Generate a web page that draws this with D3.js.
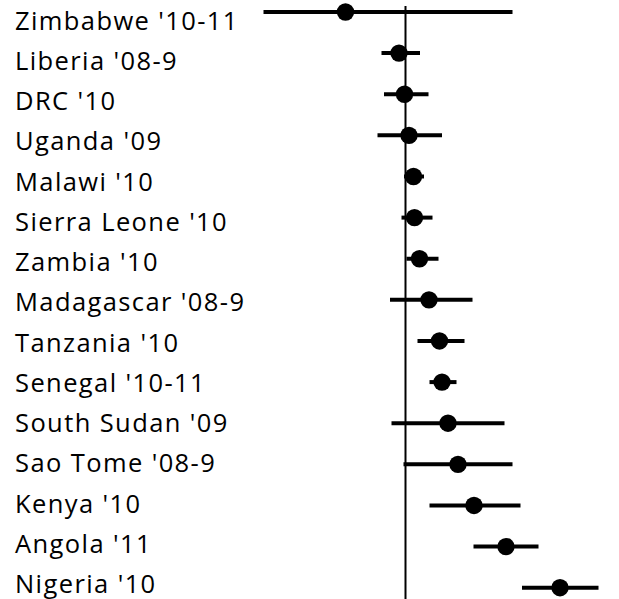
<!DOCTYPE html>
<html>
<head>
<meta charset="utf-8">
<script src="https://cdn.jsdelivr.net/npm/d3@7"></script>
<style>
  html, body { margin: 0; padding: 0; background: #fff; }
  svg { display: block; }
</style>
</head>
<body>
<script>
// Survey labels, top to bottom
const surveys = [
  "Zimbabwe '10-11", "Liberia '08-9", "DRC '10", "Uganda '09", "Malawi '10",
  "Sierra Leone '10", "Zambia '10", "Madagascar '08-9", "Tanzania '10",
  "Senegal '10-11", "South Sudan '09", "Sao Tome '08-9", "Kenya '10",
  "Angola '11", "Nigeria '10"
];
// Point estimates and confidence bounds
const estimate = [-0.60, -0.065, -0.01, 0.035, 0.08, 0.09, 0.14, 0.235, 0.34, 0.365, 0.425, 0.525, 0.685, 1.005, 1.545];
const lower    = [-1.42, -0.24, -0.215, -0.28, -0.015, -0.04, 0.01, -0.155, 0.12, 0.24, -0.14, -0.02, 0.24, 0.68, 1.165];
const upper    = [1.07, 0.145, 0.23, 0.365, 0.185, 0.27, 0.33, 0.67, 0.59, 0.51, 0.99, 1.07, 1.15, 1.33, 1.93];
// Reference value for the vertical line
const reference = 0;

const W = 619, H = 599;
const rows = surveys.map((s, i) => ({ label: s, est: estimate[i], lo: lower[i], hi: upper[i] }));

const svg = d3.select("body").append("svg").attr("width", W).attr("height", H);

const x = d3.scaleLinear().domain([-1.5, 2.0]).range([255.5, 605.5]);
const yMark = d3.scalePoint().domain(surveys).range([12, 587.7]);
const yText = d3.scalePoint().domain(surveys).range([29.5, 593]);

// reference line
svg.append("line")
  .attr("x1", x(reference)).attr("x2", x(reference))
  .attr("y1", 6).attr("y2", H)
  .attr("stroke", "#000").attr("stroke-width", 2);

// labels
svg.append("g").selectAll("text").data(rows).join("text")
  .attr("x", 15)
  .attr("y", d => yText(d.label))
  .attr("font-family", "'Open Sans', sans-serif")
  .attr("font-size", 25.5)
  .attr("letter-spacing", 1.4)
  .attr("fill", "#000")
  .text(d => d.label);

// confidence intervals
svg.append("g").selectAll("line").data(rows).join("line")
  .attr("x1", d => x(d.lo)).attr("x2", d => x(d.hi))
  .attr("y1", d => yMark(d.label)).attr("y2", d => yMark(d.label))
  .attr("stroke", "#000").attr("stroke-width", 4);

// estimates
svg.append("g").selectAll("circle").data(rows).join("circle")
  .attr("cx", d => x(d.est))
  .attr("cy", d => yMark(d.label))
  .attr("r", 8.7)
  .attr("fill", "#000");
</script>
</body>
</html>
